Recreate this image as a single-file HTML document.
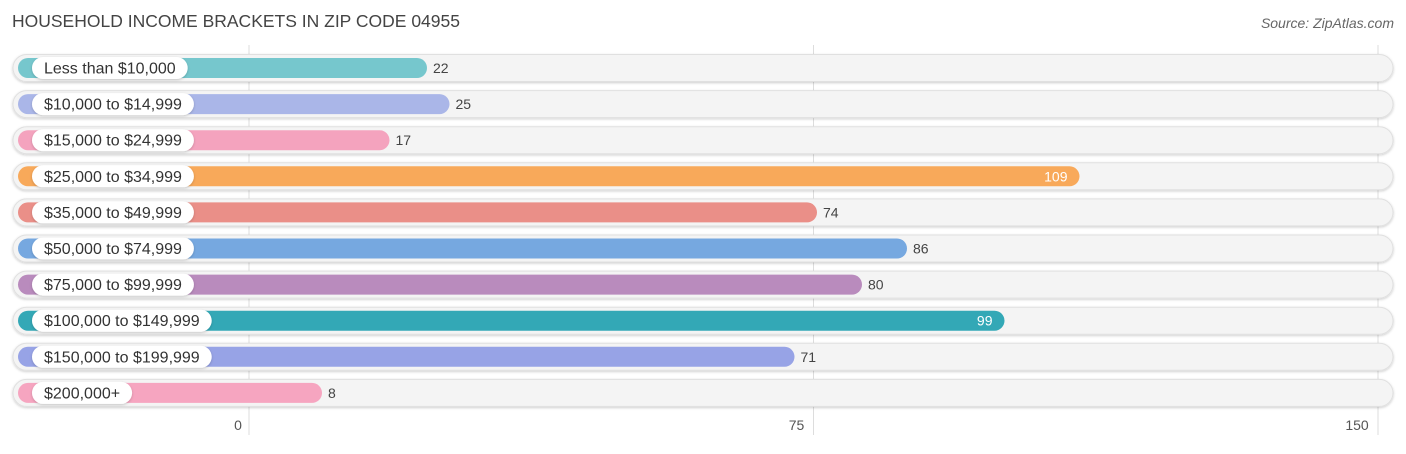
<!DOCTYPE html>
<html><head><meta charset="utf-8"><style>
body{margin:0;background:#fff;width:1406px;height:449px;overflow:hidden;font-family:"Liberation Sans",sans-serif}
</style></head><body>
<svg id="chart" width="1406" height="449" xmlns="http://www.w3.org/2000/svg">
<defs><filter id="sh" x="-5%" y="-50%" width="110%" height="200%"><feDropShadow dx="0" dy="1" stdDeviation="1.2" flood-color="#000" flood-opacity="0.2"/></filter></defs>
<text x="12" y="27" font-size="17.5" fill="#444">HOUSEHOLD INCOME BRACKETS IN ZIP CODE 04955</text>
<text x="1394" y="28" font-size="14" fill="#666" font-style="italic" text-anchor="end">Source: ZipAtlas.com</text>
<g id="grid"></g><g id="rows"></g><g id="ticks"></g>
</svg>
<script>
const categories=["Less than $10,000","$10,000 to $14,999","$15,000 to $24,999","$25,000 to $34,999","$35,000 to $49,999","$50,000 to $74,999","$75,000 to $99,999","$100,000 to $149,999","$150,000 to $199,999","$200,000+"];
const values=[22,25,17,109,74,86,80,99,71,8];
const colors=["#76c7cd","#aab6e8","#f4a3be","#f8a95a","#ea8f88","#76a8e0","#b98bbd","#33a8b6","#97a3e6","#f6a5c0"];
const tickValues=[0,75,150];
const NS="http://www.w3.org/2000/svg";
const gx=v=>249+v*(1378-249)/150;
const bx=v=>262+v*7.5;
const ry=i=>68+i*36.1;
function mk(t,a,p){const e=document.createElementNS(NS,t);for(const k in a)e.setAttribute(k,a[k]);p.appendChild(e);return e;}
const grid=document.getElementById('grid'),rows=document.getElementById('rows'),ticks=document.getElementById('ticks');
tickValues.forEach(t=>{
 const l=mk('line',{x1:gx(t),x2:gx(t),y1:45,y2:435,stroke:'#ddd','stroke-width':1},grid);
 
 
 const tx=mk('text',{x:gx(t)-(t===0?11:t===150?21:17),y:430,'font-size':14,fill:'#555','text-anchor':'middle'},ticks);
 tx.textContent=t;
 
 
});
categories.forEach((c,i)=>{
 const y=ry(i);
 const g=mk('g',{},rows);
 
 
 const tr=mk('rect',{x:13,y:y-13.5,width:1380,height:27,rx:13.5,fill:'#f4f4f4',stroke:'#e0e0e0',filter:'url(#sh)'},g);
 
 
 const b=mk('rect',{x:18,y:y-10,width:bx(values[i])-18,height:20,rx:10,fill:colors[i]},g);
 
 
 const lp=mk('rect',{x:32,y:y-11,width:100,height:22,rx:11,fill:'#fff',filter:'url(#sh)'},g);
 
 
 const lt=mk('text',{x:44,y:y+5.5,'font-size':16,fill:'#333'},g);
 lt.textContent=c;
 
 
 lp.setAttribute('width',lt.getComputedTextLength()+24);
 const inside=values[i]>90;
 const vt=mk('text',{x:inside?bx(values[i])-12:bx(values[i])+6,y:y+5,'font-size':14,fill:inside?'#fff':'#444','text-anchor':inside?'end':'start'},g);
 vt.textContent=values[i];
 
 
});
</script>
</body></html>
